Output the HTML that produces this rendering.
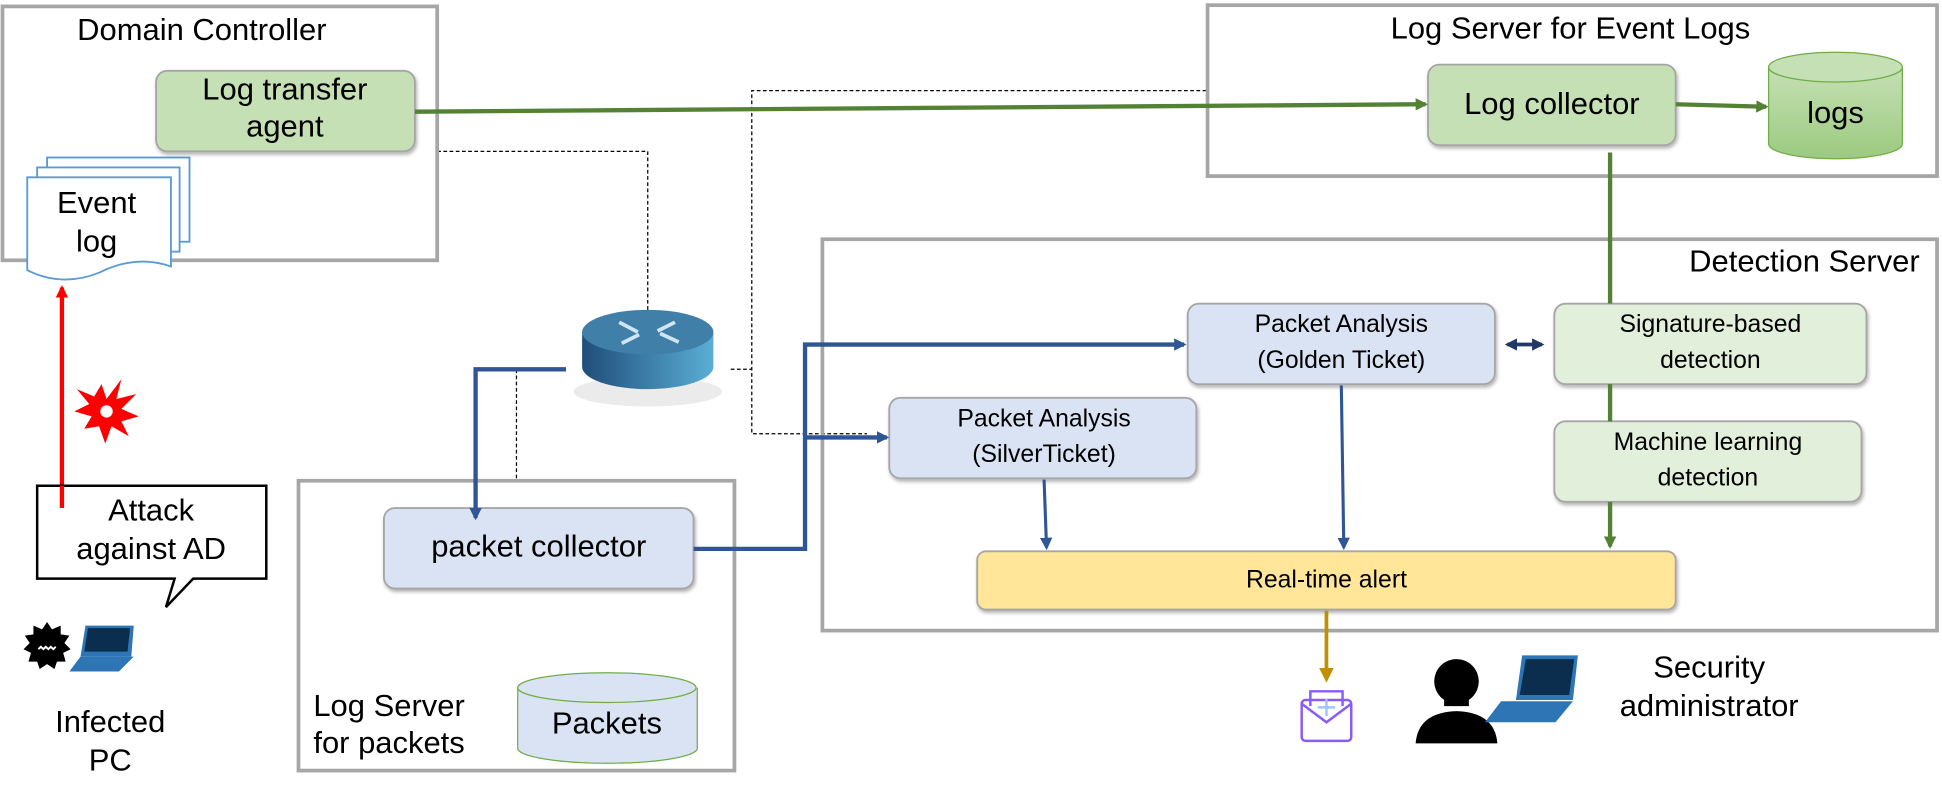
<!DOCTYPE html>
<html><head><meta charset="utf-8"><style>
html,body{margin:0;padding:0;background:#fff;}
svg{display:block;}
text{font-family:"Liberation Sans","DejaVu Sans",sans-serif;fill:#000;}
</style></head><body>
<svg width="1942" height="803" viewBox="0 0 1568 648" xmlns="http://www.w3.org/2000/svg">
<defs>
<marker id="ag" markerWidth="10" markerHeight="10" refX="8" refY="5" orient="auto" markerUnits="userSpaceOnUse"><path d="M0,0L10,5L0,10z" fill="#548235"/></marker>
<marker id="ab" markerWidth="10" markerHeight="10" refX="8" refY="5" orient="auto" markerUnits="userSpaceOnUse"><path d="M0,0L10,5L0,10z" fill="#2f5597"/></marker>
<marker id="an" markerWidth="10" markerHeight="10" refX="8" refY="5" orient="auto-start-reverse" markerUnits="userSpaceOnUse"><path d="M0,0L10,5L0,10z" fill="#203864"/></marker>
<marker id="ar" markerWidth="10" markerHeight="10" refX="8" refY="5" orient="auto" markerUnits="userSpaceOnUse"><path d="M0,0L10,5L0,10z" fill="#f00"/></marker>
<marker id="ay" markerWidth="12" markerHeight="12" refX="9" refY="6" orient="auto" markerUnits="userSpaceOnUse"><path d="M0,0L12,6L0,12z" fill="#bf9000"/></marker>
<linearGradient id="cg" x1="0" y1="0" x2="0" y2="1"><stop offset="0" stop-color="#c5e0b4"/><stop offset="1" stop-color="#9cca80"/></linearGradient>
<linearGradient id="rt" x1="0" y1="0" x2="1" y2="0"><stop offset="0" stop-color="#1f4e79"/><stop offset="1" stop-color="#5aaed6"/></linearGradient>
<filter id="sh"><feDropShadow dx="1" dy="2" stdDeviation="1.5" flood-opacity="0.3"/></filter>
</defs>

<g stroke="#000" stroke-width="1" stroke-dasharray="3,2" fill="none">
<path d="M353,122H523V255"/>
<path d="M974,73H607V350H700"/>
<path d="M590,298H607"/>
<path d="M417,298V387"/>
</g>

<g fill="none" stroke="#a6a6a6" stroke-width="3">
<rect x="2" y="5" width="351" height="205"/>
<rect x="975" y="4" width="589" height="138"/>
<rect x="664" y="193" width="900" height="316"/>
<rect x="241" y="388" width="352" height="234"/>
</g>
<text x="163" y="32" font-size="25" text-anchor="middle">Domain Controller</text>
<text x="1268" y="31" font-size="25" text-anchor="middle">Log Server for Event Logs</text>
<text x="1550" y="219" font-size="25" text-anchor="end">Detection Server</text>
<text x="253" y="578" font-size="25">Log Server</text>
<text x="253" y="608" font-size="25">for packets</text>

<g fill="#fff" stroke="#5b9bd5" stroke-width="1.5">
<rect x="38" y="127" width="115" height="68"/>
<rect x="30" y="135" width="115" height="68"/>
<path d="M22,143H138V215Q110,205 80,220Q50,232 22,218Z"/>
</g>
<text x="78" y="172" font-size="25" text-anchor="middle">Event</text>
<text x="78" y="203" font-size="25" text-anchor="middle">log</text>

<g filter="url(#sh)" stroke="#a6a6a6" stroke-width="1.5">
<rect x="126" y="57" width="209" height="65" rx="9" fill="#c5e0b4"/>
<rect x="1153" y="52" width="200" height="65" rx="9" fill="#c5e0b4"/>
<rect x="959" y="245" width="248" height="65" rx="9" fill="#dae3f3"/>
<rect x="1255" y="245" width="252" height="65" rx="9" fill="#e2efda"/>
<rect x="1255" y="340" width="248" height="65" rx="9" fill="#e2efda"/>
<rect x="718" y="321" width="248" height="65" rx="9" fill="#dae3f3"/>
<rect x="789" y="445" width="564" height="47" rx="7" fill="#ffe699"/>
<rect x="310" y="410" width="250" height="65" rx="9" fill="#dae3f3"/>
</g>
<text x="230" y="80" font-size="25" text-anchor="middle">Log transfer</text>
<text x="230" y="110" font-size="25" text-anchor="middle">agent</text>
<text x="1253" y="92" font-size="25" text-anchor="middle">Log collector</text>
<text x="1083" y="268" font-size="20" text-anchor="middle">Packet Analysis</text>
<text x="1083" y="297" font-size="20" text-anchor="middle">(Golden Ticket)</text>
<text x="1381" y="268" font-size="20" text-anchor="middle">Signature-based</text>
<text x="1381" y="297" font-size="20" text-anchor="middle">detection</text>
<text x="1379" y="363" font-size="20" text-anchor="middle">Machine learning</text>
<text x="1379" y="392" font-size="20" text-anchor="middle">detection</text>
<text x="843" y="344" font-size="20" text-anchor="middle">Packet Analysis</text>
<text x="843" y="373" font-size="20" text-anchor="middle">(SilverTicket)</text>
<text x="1071" y="474" font-size="20" text-anchor="middle">Real-time alert</text>
<text x="435" y="449" font-size="25" text-anchor="middle">packet collector</text>

<g stroke="#70ad47" stroke-width="1">
<path d="M1428,54V116A54,12 0 0 0 1536,116V54" fill="url(#cg)"/>
<ellipse cx="1482" cy="54" rx="54" ry="12" fill="#c5e0b4"/>
<path d="M418,555V604A72,12 0 0 0 563,604V555" fill="#dae3f3"/>
<ellipse cx="490" cy="555" rx="72" ry="12" fill="#dae3f3"/>
</g>
<text x="1482" y="99" font-size="25" text-anchor="middle">logs</text>
<text x="490" y="592" font-size="25" text-anchor="middle">Packets</text>

<g stroke="#548235" stroke-width="3.5" fill="none">
<path d="M335,90L1151,84" marker-end="url(#ag)"/>
<path d="M1353,84L1426,86" marker-end="url(#ag)"/>
<path d="M1300,123V245M1300,310V340M1300,405V441" marker-end="url(#ag)"/>
</g>

<g stroke="#2f5597" stroke-width="3.5" fill="none">
<path d="M457,298H384V418" marker-end="url(#ab)"/>
<path d="M560,443H650V278H956" marker-end="url(#ab)"/>
<path d="M650,353H716" marker-end="url(#ab)"/>
<path d="M1083,311L1085,442" stroke-width="2.5" marker-end="url(#ab)"/>
<path d="M843,387L845,442" stroke-width="2.5" marker-end="url(#ab)"/>
</g>
<path d="M1217,278H1245" stroke="#203864" stroke-width="3" marker-start="url(#an)" marker-end="url(#an)"/>
<path d="M1071,493V548" stroke="#bf9000" stroke-width="3" marker-end="url(#ay)"/>

<ellipse cx="523" cy="316" rx="60" ry="12" fill="#ddd" opacity="0.6"/>
<path d="M470,268V296A53,18 0 0 0 576,296V268Z" fill="url(#rt)"/>
<ellipse cx="523" cy="268" rx="53" ry="18" fill="#3f7fa8"/>
<g stroke="#cfe6f2" stroke-width="3" fill="none">
<path d="M500,260L515,268M548,276L533,269M545,260L531,267M502,277L516,270"/>
</g>

<path d="M50,392V232" stroke="#f00" stroke-width="3.5" marker-end="url(#ar)"/>
<polygon points="82,310 86,322 98,306 94,322 110,318 98,330 112,336 98,340 104,352 90,344 85,358 80,344 68,346 74,336 60,332 72,326 62,314 76,320" fill="#f00"/>
<circle cx="86" cy="332" r="5" fill="#fff"/>

<path d="M30,392H215V467H156L134,490L141,467H30Z" fill="#fff" stroke="#000" stroke-width="2"/>
<path d="M50,392V410" stroke="#f00" stroke-width="3.5"/>
<text x="122" y="420" font-size="25" text-anchor="middle">Attack</text>
<text x="122" y="451" font-size="25" text-anchor="middle">against AD</text>

<path d="M69,505H108L106,530H65Z" fill="#2e75b6"/>
<path d="M71,507H105L103,526H68Z" fill="#0b2e4f"/>
<path d="M56,542L65,530H108L96,542Z" fill="#2e75b6"/>
<polygon points="38,502 42,508 49,505 49,512 56,513 52,519 57,524 51,527 53,534 46,534 44,540 38,536 32,540 30,534 23,534 25,527 19,524 24,519 20,513 27,512 27,505 34,508" fill="#000"/>
<path d="M31,524l2,-2l2,2l2,-2l2,2l2,-2l2,2l2,-2" stroke="#fff" stroke-width="1.5" fill="none"/>
<text x="89" y="591" font-size="25" text-anchor="middle">Infected</text>
<text x="89" y="622" font-size="25" text-anchor="middle">PC</text>

<g fill="none" stroke="#8a5cf6" stroke-width="2">
<rect x="1051" y="565" width="40" height="33" rx="3"/>
<path d="M1051,568L1071,583L1091,568"/>
<path d="M1058,570V558H1084V570"/>
<path d="M1071,564V578M1064,571H1078" stroke="#9ec5ff"/>
</g>
<circle cx="1176" cy="550" r="18" fill="#000"/>
<path d="M1166,560h20v10h-20z" fill="#000"/>
<path d="M1143,600Q1145,575 1176,574Q1207,575 1209,600Z" fill="#000"/>
<path d="M1229,529H1274L1270,565H1224Z" fill="#2e75b6"/>
<path d="M1232,532H1271L1267,561H1227Z" fill="#0b2e4f"/>
<path d="M1199,583L1212,566H1270L1256,583Z" fill="#2e75b6"/>
<text x="1380" y="547" font-size="25" text-anchor="middle">Security</text>
<text x="1380" y="578" font-size="25" text-anchor="middle">administrator</text>
</svg>
</body></html>
